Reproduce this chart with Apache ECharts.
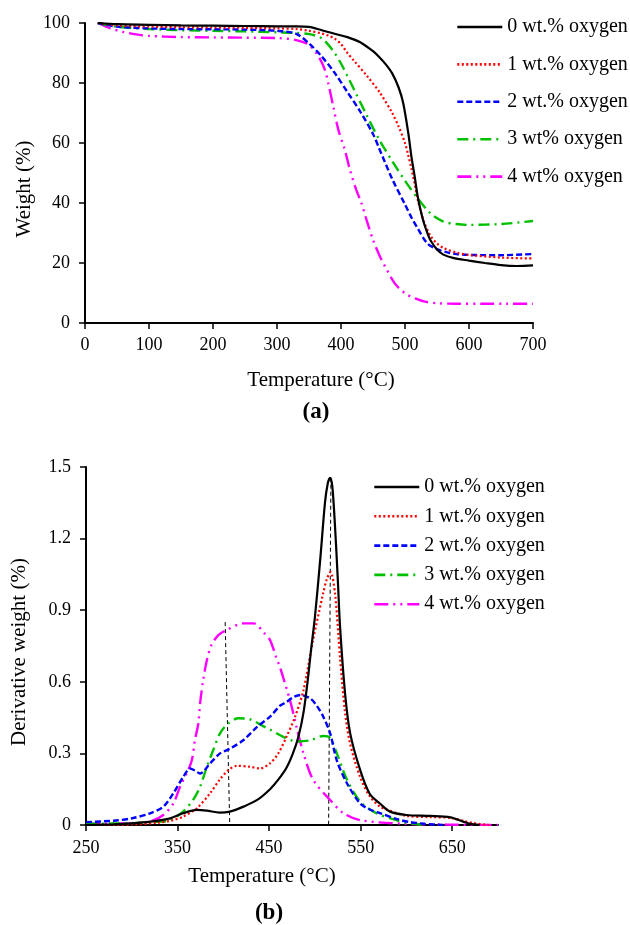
<!DOCTYPE html>
<html>
<head>
<meta charset="utf-8">
<script src="https://cdn.jsdelivr.net/npm/echarts@6/dist/echarts.min.js"></script>
<style>
html,body{margin:0;padding:0;background:#fff;}
#chart{width:630px;height:925px;}
</style>
</head>
<body>
<div id="chart"></div>
<script>
// ---------- (a) TGA: weight (%) vs temperature ----------
const namesA = ['0 wt.% oxygen', '1 wt.% oxygen', '2 wt.% oxygen', '3 wt% oxygen', '4 wt% oxygen'];
const tempA0 = [20, 50, 100, 150, 200, 250, 300, 330, 350, 370, 390, 410, 430, 450, 460, 470, 480, 490, 497, 505, 510, 515, 520, 525, 530, 535, 540, 550, 560, 575, 600, 625, 650, 675, 700];
const wA0    = [100, 99.6, 99.4, 99.2, 99.1, 99.0, 98.9, 98.9, 98.7, 97.6, 96.4, 95.3, 93.6, 90.6, 88.6, 86.2, 83.2, 78.5, 73.5, 63.5, 55.5, 49, 42, 37, 33, 30, 27.5, 24.5, 22.8, 21.7, 20.8, 20, 19.3, 19, 19.2];
const tempA1 = [20, 50, 100, 150, 200, 250, 300, 330, 350, 370, 380, 390, 400, 410, 420, 440, 460, 480, 490, 500, 505, 510, 515, 520, 525, 530, 540, 550, 560, 580, 600, 650, 700];
const wA1    = [100, 99.2, 98.8, 98.6, 98.5, 98.4, 98.2, 98.0, 97.4, 96.5, 95.8, 94.8, 93, 90, 87.5, 82.5, 77, 70, 65.5, 60, 56, 51.5, 46.5, 41, 37, 33.5, 29, 26.5, 25, 23.5, 22.7, 21.8, 21.5];
const tempA2 = [20, 50, 100, 150, 200, 250, 300, 330, 350, 370, 390, 410, 430, 450, 460, 480, 500, 510, 520, 535, 550, 565, 580, 600, 650, 700];
const wA2    = [100, 98.8, 98.2, 98, 97.9, 97.8, 97.4, 96.4, 93.2, 88.8, 83.4, 77, 70.5, 63, 58, 48, 39.5, 35.2, 31.5, 26.5, 24.6, 23.6, 23, 22.7, 22.6, 23];
const tempA3 = [20, 50, 100, 150, 200, 250, 300, 330, 350, 360, 370, 380, 390, 400, 410, 420, 440, 460, 480, 500, 520, 540, 560, 580, 600, 650, 700];
const wA3    = [100, 98.8, 98, 97.6, 97.4, 97.2, 96.9, 96.7, 96.3, 95.8, 94.9, 92.8, 90, 86.5, 82.3, 78, 69.3, 61, 54, 47.4, 41.5, 36.5, 33.8, 33, 32.7, 33, 34];
const tempA4 = [20, 40, 60, 80, 100, 150, 200, 250, 300, 330, 350, 365, 375, 380, 388, 396, 406, 414, 424, 432, 440, 450, 461, 469, 484, 500, 516, 531, 550, 580, 620, 660, 700];
const wA4    = [100, 98.2, 97, 96.2, 95.7, 95.3, 95.2, 95.1, 95, 94.3, 92.7, 88.8, 84.3, 80, 72.1, 64.3, 57.7, 51, 44.3, 39.9, 34.3, 27.7, 22.1, 18.8, 13.2, 9.9, 8.2, 7.1, 6.6, 6.4, 6.4, 6.4, 6.4];

// ---------- (b) DTG: derivative weight (%) vs temperature ----------
const namesB = ['0 wt.% oxygen', '1 wt.% oxygen', '2 wt.% oxygen', '3 wt.% oxygen', '4 wt.% oxygen'];
const tempB0 = [250, 280, 300, 320, 342, 356, 371, 382, 396, 407, 422, 437, 451, 460, 469, 476, 482, 487.5, 492, 496, 500, 506, 511, 514, 516.5, 519, 522, 525, 527.5, 533, 538.5, 549.5, 560, 571, 582, 600, 626, 648, 662, 670, 680];
const dB0    = [0, 0.003, 0.007, 0.014, 0.028, 0.049, 0.063, 0.06, 0.052, 0.056, 0.077, 0.105, 0.15, 0.19, 0.24, 0.3, 0.37, 0.47, 0.6, 0.74, 0.87, 1.12, 1.35, 1.43, 1.455, 1.42, 1.25, 1.03, 0.83, 0.55, 0.385, 0.23, 0.13, 0.09, 0.056, 0.042, 0.038, 0.032, 0.014, 0.005, 0];
const tempB1 = [250, 300, 330, 345, 356, 371, 385.5, 396, 405.5, 414.7, 429, 440, 451, 460, 469, 478, 487.5, 498, 509, 513, 517, 522, 527.5, 533, 538.5, 549.5, 560, 571, 582, 600, 626, 648, 662, 673, 690];
const dB1    = [0, 0.002, 0.01, 0.02, 0.035, 0.07, 0.133, 0.19, 0.23, 0.248, 0.244, 0.237, 0.258, 0.3, 0.37, 0.45, 0.565, 0.775, 0.97, 1.03, 1.06, 0.97, 0.7, 0.47, 0.34, 0.2, 0.12, 0.077, 0.06, 0.038, 0.033, 0.03, 0.018, 0.008, 0];
const tempB2 = [250, 280, 300, 320, 334.5, 345.4, 356, 363.7, 369, 374.6, 385.5, 396.4, 407.4, 422, 436.6, 451, 462, 469, 476, 484, 495, 502, 509, 516.6, 524, 535, 549.5, 560, 571, 589.5, 604, 620, 640];
const dB2    = [0.012, 0.018, 0.028, 0.049, 0.077, 0.133, 0.2, 0.237, 0.228, 0.216, 0.258, 0.3, 0.32, 0.356, 0.41, 0.454, 0.5, 0.515, 0.535, 0.545, 0.53, 0.5, 0.455, 0.385, 0.27, 0.175, 0.09, 0.065, 0.05, 0.025, 0.012, 0.005, 0];
const tempB3 = [250, 300, 330, 342, 356, 367, 374.6, 382, 389, 396.4, 405.5, 416.4, 429, 445.6, 451, 465, 480, 495, 509, 516.6, 524, 535, 549.5, 567, 589, 600, 620];
const dB3    = [0.005, 0.008, 0.014, 0.02, 0.056, 0.105, 0.16, 0.244, 0.314, 0.384, 0.426, 0.447, 0.443, 0.41, 0.4, 0.37, 0.35, 0.355, 0.373, 0.365, 0.3, 0.19, 0.098, 0.05, 0.02, 0.01, 0];
const tempB4 = [250, 300, 320, 334.5, 345.4, 352.7, 360, 365.5, 369, 372.7, 374.6, 378, 382, 387, 394.6, 403.7, 422, 433, 445.6, 451, 458, 462, 473, 480, 487.5, 498, 516.6, 531, 549.5, 600, 700];
const dB4    = [0.005, 0.008, 0.015, 0.042, 0.09, 0.16, 0.217, 0.27, 0.356, 0.426, 0.51, 0.607, 0.69, 0.754, 0.796, 0.817, 0.845, 0.845, 0.8, 0.775, 0.7, 0.66, 0.52, 0.41, 0.3, 0.19, 0.105, 0.05, 0.02, 0.005, 0];

// Peak-marker dashed guide lines (panel b)
const guide1T = [402, 407];
const guide1D = [0.85, 0];
const guide2T = [517.5, 515];
const guide2D = [1.455, 0];

// Axis tick labels
const xTicksA = [0, 100, 200, 300, 400, 500, 600, 700];
const yTicksA = [0, 20, 40, 60, 80, 100];
const xTicksB = [250, 350, 450, 550, 650];
const yTicksB = [0, 0.3, 0.6, 0.9, 1.2, 1.5];

const colors = ['#000000', '#ff0000', '#0000ff', '#00c000', '#ff00ff'];
const dashes = ['solid', [2, 2.5], [6, 3], [11, 5, 2, 5], [14, 5, 2, 5, 2, 5]];
const widths = [2.2, 2.2, 2.4, 2.4, 2.4];

const FONT = '"Liberation Serif", "Times New Roman", serif';

function pairs(t, v) { return t.map((x, i) => [x, v[i]]); }

const tA = [tempA0, tempA1, tempA2, tempA3, tempA4];
const vA = [wA0, wA1, wA2, wA3, wA4];
const tB = [tempB0, tempB1, tempB2, tempB3, tempB4];
const vB = [dB0, dB1, dB2, dB3, dB4];

const series = [];
for (let i = 0; i < 5; i++) {
  series.push({
    name: namesA[i], type: 'line', xAxisIndex: 0, yAxisIndex: 0,
    data: pairs(tA[i], vA[i]), symbol: 'none', smooth: 0.3, z: 10 - i,
    lineStyle: { color: colors[i], width: widths[i], type: dashes[i], cap: 'butt' },
    itemStyle: { color: colors[i] }
  });
}
for (let i = 0; i < 5; i++) {
  series.push({
    name: namesB[i], type: 'line', xAxisIndex: 1, yAxisIndex: 1,
    data: pairs(tB[i], vB[i]), symbol: 'none', smooth: 0.3, z: 10 - i,
    lineStyle: { color: colors[i], width: widths[i], type: dashes[i], cap: 'butt' },
    itemStyle: { color: colors[i] }
  });
}
[[guide1T, guide1D], [guide2T, guide2D]].forEach(g => {
  series.push({
    name: 'guide', type: 'line', xAxisIndex: 1, yAxisIndex: 1,
    data: pairs(g[0], g[1]), symbol: 'none', z: 1,
    lineStyle: { color: '#000', width: 1, type: [4, 3] }
  });
});

const axisCommon = {
  axisLine: { show: true, onZero: false, lineStyle: { color: '#000', width: 2 } },
  axisTick: { show: true, inside: false, length: 6, lineStyle: { color: '#000', width: 1.5 } },
  splitLine: { show: false },
  axisLabel: { color: '#000', fontFamily: FONT, fontSize: 18 }
};

const legendCommon = {
  orient: 'vertical', itemWidth: 45, itemHeight: 14, selectedMode: false, padding: 0,
  itemStyle: { opacity: 0, color: 'transparent', borderWidth: 0 },
  lineStyle: { width: 2.6 },
  textStyle: { color: '#000', fontFamily: FONT, fontSize: 20, lineHeight: 20 }
};

const option = {
  animation: false,
  backgroundColor: '#fff',
  grid: [
    { left: 85, top: 23, width: 448, height: 300, containLabel: false, outerBoundsMode: 'none' },
    { left: 86, top: 467, width: 412, height: 358, containLabel: false, outerBoundsMode: 'none' }
  ],
  xAxis: [
    Object.assign({}, axisCommon, {
      type: 'value', gridIndex: 0, min: 0, max: 700, interval: 100,
      axisLabel: Object.assign({}, axisCommon.axisLabel, { margin: 13, customValues: xTicksA }),
      axisTick: Object.assign({}, axisCommon.axisTick, { customValues: xTicksA })
    }),
    Object.assign({}, axisCommon, {
      type: 'value', gridIndex: 1, min: 250, max: 700, interval: 50,
      axisLabel: Object.assign({}, axisCommon.axisLabel, {
        margin: 14, customValues: xTicksB,
        formatter: v => (xTicksB.indexOf(v) >= 0 ? String(v) : '')
      }),
      axisTick: Object.assign({}, axisCommon.axisTick, { customValues: xTicksB })
    })
  ],
  yAxis: [
    Object.assign({}, axisCommon, {
      type: 'value', gridIndex: 0, min: 0, max: 100, interval: 20,
      axisLabel: Object.assign({}, axisCommon.axisLabel, { margin: 15, customValues: yTicksA }),
      axisTick: Object.assign({}, axisCommon.axisTick, { customValues: yTicksA })
    }),
    Object.assign({}, axisCommon, {
      type: 'value', gridIndex: 1, min: 0, max: 1.5, interval: 0.3,
      axisLabel: Object.assign({}, axisCommon.axisLabel, {
        margin: 15, customValues: yTicksB,
        formatter: v => (Math.abs(v) < 1e-9 ? '0' : v.toFixed(1))
      }),
      axisTick: Object.assign({}, axisCommon.axisTick, { customValues: yTicksB })
    })
  ],
  legend: [
    Object.assign({}, legendCommon, { data: namesA, left: 456, top: 17, itemGap: 17.4 }),
    Object.assign({}, legendCommon, { data: namesB, left: 373, top: 477, itemGap: 9.3 })
  ],
  graphic: [
    { type: 'text', x: 24, y: 189, rotation: Math.PI / 2, style: { text: 'Weight (%)', font: '21px ' + FONT, fill: '#000', align: 'center', verticalAlign: 'middle' } },
    { type: 'text', x: 321, y: 380, style: { text: 'Temperature (°C)', font: '21px ' + FONT, fill: '#000', align: 'center', verticalAlign: 'middle' } },
    { type: 'text', x: 316, y: 412, style: { text: '(a)', font: 'bold 23px ' + FONT, fill: '#000', align: 'center', verticalAlign: 'middle' } },
    { type: 'text', x: 19, y: 652, rotation: Math.PI / 2, style: { text: 'Derivative weight (%)', font: '21px ' + FONT, fill: '#000', align: 'center', verticalAlign: 'middle' } },
    { type: 'text', x: 262, y: 876, style: { text: 'Temperature (°C)', font: '21px ' + FONT, fill: '#000', align: 'center', verticalAlign: 'middle' } },
    { type: 'text', x: 269, y: 913, style: { text: '(b)', font: 'bold 23px ' + FONT, fill: '#000', align: 'center', verticalAlign: 'middle' } }
  ],
  series: series
};

const chart = echarts.init(document.getElementById('chart'), null, { renderer: 'canvas' });
chart.setOption(option);
</script>
</body>
</html>
